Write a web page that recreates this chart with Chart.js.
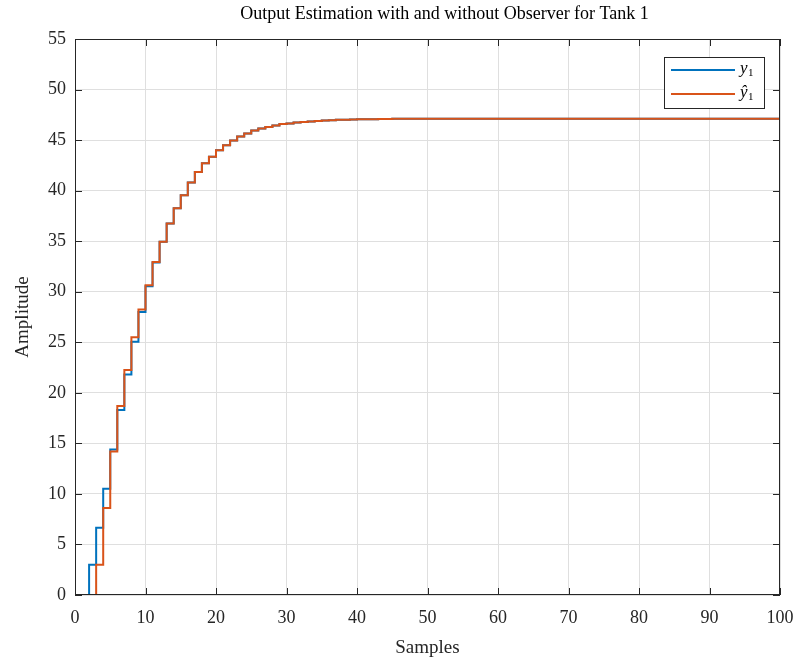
<!DOCTYPE html>
<html>
<head>
<meta charset="utf-8">
<script src="https://cdn.jsdelivr.net/npm/chart.js@4.4.0/dist/chart.umd.min.js"></script>
<style>
  html, body { margin: 0; padding: 0; background: #fff; }
  #wrap { width: 798px; height: 657px; }
</style>
</head>
<body>
<div id="wrap"><canvas id="tankChart" width="798" height="657"></canvas></div>
<script>
// --- Data ---
const samples = [0, 1, 2, 3, 4, 5, 6, 7, 8, 9, 10, 11, 12, 13, 14, 15, 16, 17, 18, 19, 20,
  21, 22, 23, 24, 25, 26, 27, 28, 29, 30, 31, 32, 33, 34, 35, 36, 37, 38, 39, 40,
  41, 42, 43, 44, 45, 100];

// measured output y1
const outputY = [0, 0, 3.0, 6.65, 10.5, 14.4, 18.3, 21.8, 25.05, 28.0, 30.55, 32.9,
  34.95, 36.75, 38.25, 39.55, 40.8, 41.85, 42.7, 43.35, 44.0, 44.5, 44.95, 45.35,
  45.65, 45.95, 46.15, 46.3, 46.45, 46.6, 46.65, 46.75, 46.8, 46.85, 46.9, 46.95,
  46.97, 47.0, 47.02, 47.04, 47.05, 47.06, 47.07, 47.08, 47.09, 47.1, 47.1];

// observer estimate y1-hat
const estimateY = [0, 0, 0, 3.0, 8.6, 14.2, 18.7, 22.25, 25.5, 28.25, 30.65, 32.95,
  34.95, 36.75, 38.25, 39.55, 40.8, 41.85, 42.7, 43.35, 44.0, 44.5, 44.95, 45.35,
  45.65, 45.95, 46.15, 46.3, 46.45, 46.6, 46.65, 46.75, 46.8, 46.85, 46.9, 46.95,
  46.97, 47.0, 47.02, 47.04, 47.05, 47.06, 47.07, 47.08, 47.09, 47.1, 47.1];

const xTicks = [0, 10, 20, 30, 40, 50, 60, 70, 80, 90, 100];
const yTicks = [0, 5, 10, 15, 20, 25, 30, 35, 40, 45, 50, 55];

const TITLE = 'Output Estimation with and without Observer for Tank 1';
const SERIF = '"Liberation Serif", "DejaVu Serif", serif';
const AXIS_COLOR = '#262626';

const toPoints = (ys) => samples.map((x, i) => ({ x: x, y: ys[i] }));

// --- Plugins ---
// title drawn above the axes
const axesTitle = {
  id: 'axesTitle',
  afterDraw(chart) {
    const { ctx, chartArea: a } = chart;
    ctx.save();
    ctx.fillStyle = '#000';
    ctx.font = '18px ' + SERIF;
    ctx.textAlign = 'center';
    ctx.textBaseline = 'middle';
    ctx.fillText(TITLE, (a.left + a.right) / 2 + 17, 14);
    ctx.restore();
  }
};

// box around the axes plus inward tick marks
const axesBox = {
  id: 'axesBox',
  afterDraw(chart) {
    const { ctx, chartArea: a, scales } = chart;
    ctx.save();
    ctx.strokeStyle = AXIS_COLOR;
    ctx.lineWidth = 1;
    ctx.strokeRect(a.left + 0.5, a.top + 0.5, a.right - a.left - 1, a.bottom - a.top - 1);
    xTicks.forEach(v => {
      const px = Math.round(scales.x.getPixelForValue(v)) + 0.5;
      ctx.beginPath();
      ctx.moveTo(px, a.bottom); ctx.lineTo(px, a.bottom - 7);
      ctx.moveTo(px, a.top); ctx.lineTo(px, a.top + 7);
      ctx.stroke();
    });
    yTicks.forEach(v => {
      const py = Math.round(scales.y.getPixelForValue(v)) + 0.5;
      ctx.beginPath();
      ctx.moveTo(a.left, py); ctx.lineTo(a.left + 7, py);
      ctx.moveTo(a.right, py); ctx.lineTo(a.right - 7, py);
      ctx.stroke();
    });
    ctx.restore();
  }
};

// boxed legend in the upper right corner
const boxLegend = {
  id: 'boxLegend',
  afterDraw(chart) {
    const { ctx, chartArea: a } = chart;
    const w = 100, h = 51;
    const x0 = a.right - 16 - w, y0 = a.top + 18;
    ctx.save();
    ctx.fillStyle = '#fff';
    ctx.fillRect(x0, y0, w, h);
    ctx.strokeStyle = AXIS_COLOR;
    ctx.lineWidth = 1;
    ctx.strokeRect(x0 + 0.5, y0 + 0.5, w, h);
    const names = ['y', '\u0177'];
    chart.data.datasets.forEach((ds, i) => {
      const ly = y0 + 13 + i * 24;
      ctx.strokeStyle = ds.borderColor;
      ctx.lineWidth = 2;
      ctx.beginPath();
      ctx.moveTo(x0 + 7, ly); ctx.lineTo(x0 + 71, ly);
      ctx.stroke();
      ctx.fillStyle = '#000';
      ctx.textBaseline = 'alphabetic';
      ctx.font = 'italic 17px ' + SERIF;
      ctx.fillText(names[i], x0 + 76, ly + 3);
      ctx.font = '11px ' + SERIF;
      ctx.fillText('1', x0 + 84, ly + 6);
    });
    ctx.restore();
  }
};

// --- Chart ---
const ctx = document.getElementById('tankChart').getContext('2d');
new Chart(ctx, {
  type: 'line',
  data: {
    datasets: [
      {
        label: 'y1',
        data: toPoints(outputY),
        borderColor: '#0072BD',
        borderWidth: 2,
        stepped: true,
        pointRadius: 0,
        fill: false,
        order: 1
      },
      {
        label: 'y1 hat',
        data: toPoints(estimateY),
        borderColor: '#D95319',
        borderWidth: 2,
        stepped: true,
        pointRadius: 0,
        fill: false,
        order: 0
      }
    ]
  },
  options: {
    responsive: false,
    animation: false,
    layout: { padding: { top: 39, right: 18, left: 0, bottom: 0 } },
    plugins: {
      legend: { display: false },
      tooltip: { enabled: false },
      title: { display: false }
    },
    scales: {
      x: {
        type: 'linear',
        min: 0,
        max: 100,
        afterBuildTicks: (s) => { s.ticks = xTicks.map(v => ({ value: v })); },
        afterFit: (s) => { s.height = 62; s.paddingLeft = 0; s.paddingRight = 0; },
        grid: { color: '#dfdfdf', drawTicks: false },
        border: { display: false },
        ticks: { color: AXIS_COLOR, padding: 12, font: { family: SERIF, size: 18 } },
        title: {
          display: true,
          text: 'Samples',
          color: AXIS_COLOR,
          font: { family: SERIF, size: 19 },
          padding: { top: 6, bottom: -2 }
        }
      },
      y: {
        min: 0,
        max: 55,
        afterBuildTicks: (s) => { s.ticks = yTicks.map(v => ({ value: v })); },
        afterFit: (s) => { s.width = 75; s.paddingTop = 0; s.paddingBottom = 0; },
        grid: { color: '#dfdfdf', drawTicks: false },
        border: { display: false },
        ticks: { color: AXIS_COLOR, padding: 9, font: { family: SERIF, size: 18 } },
        title: {
          display: true,
          text: 'Amplitude',
          color: AXIS_COLOR,
          font: { family: SERIF, size: 19 },
          padding: { top: 12, bottom: 0 }
        }
      }
    }
  },
  plugins: [axesTitle, axesBox, boxLegend]
});
</script>
</body>
</html>
